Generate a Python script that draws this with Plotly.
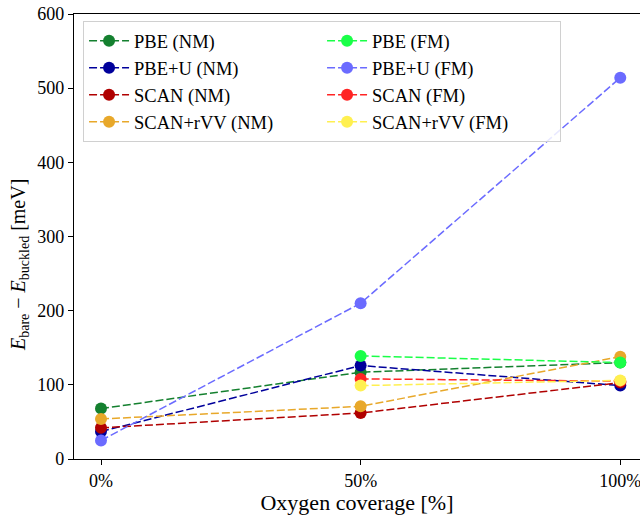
import plotly.graph_objects as go

coverage = [0, 50, 100]
tick_labels = ["0%", "50%", "100%"]
y_ticks = [0, 100, 200, 300, 400, 500, 600]

pbe_nm = [68, 117, 130]
pbeu_nm = [37, 126, 99]
scan_nm = [42, 62, 103]
scanrvv_nm = [54, 71, 138]
pbe_fm = [None, 139, 130]
pbeu_fm = [25, 210, 514]
scan_fm = [None, 108, 105]
scanrvv_fm = [None, 99, 106]

series = [
    ("PBE (NM)", pbe_nm, "#14802f", 0),
    ("PBE+U (NM)", pbeu_nm, "#00009b", 2),
    ("SCAN (NM)", scan_nm, "#b00000", 4),
    ("SCAN+rVV (NM)", scanrvv_nm, "#e8a82a", 6),
    ("PBE (FM)", pbe_fm, "#1aff48", 1),
    ("PBE+U (FM)", pbeu_fm, "#6b6bff", 3),
    ("SCAN (FM)", scan_fm, "#ff2424", 5),
    ("SCAN+rVV (FM)", scanrvv_fm, "#fff050", 7),
]

FONT = "Liberation Serif"

fig = go.Figure()
for name, vals, color, rank in series:
    fig.add_trace(go.Scatter(
        x=coverage, y=vals, name=name, mode="lines+markers",
        line=dict(color=color, width=1.5, dash="8px,3px"),
        marker=dict(color=color, size=12),
        legendrank=rank, connectgaps=False,
    ))

fig.update_layout(
    width=640, height=515,
    margin=dict(l=74, r=0, t=14, b=56),
    plot_bgcolor="white", paper_bgcolor="white",
    font=dict(family=FONT, size=18, color="black"),
    showlegend=True,
    legend=dict(
        orientation="h", x=0.016, y=0.984, xanchor="left", yanchor="top",
        entrywidth=183, entrywidthmode="pixels", itemwidth=40,
        bgcolor="rgba(255,255,255,0.85)", bordercolor="#d0d0d0", borderwidth=1,
        font=dict(family=FONT, size=18.5), traceorder="normal",
    ),
    xaxis=dict(
        range=[-5.2, 103.8], tickvals=coverage, ticktext=tick_labels,
        showgrid=False, zeroline=False, showline=True, linecolor="black",
        linewidth=1.2, mirror=True, ticks="outside", ticklen=5, tickwidth=1,
        tickcolor="black", ticklabeloverflow="allow",
        title=dict(text="Oxygen coverage [%]", standoff=6),
    ),
    yaxis=dict(
        range=[0, 600], tickvals=y_ticks,
        showgrid=False, zeroline=False, showline=True, linecolor="black",
        linewidth=1.2, ticks="outside", ticklen=5, tickwidth=1, tickcolor="black",
        ticklabeloverflow="allow",
    ),
    annotations=[dict(
        text="<i>E</i><sub>bare</sub> − <i>E</i><sub>buckled</sub> [meV]",
        xref="paper", yref="paper", x=(19 - 74) / 566, y=(459 - 265) / 445,
        xanchor="center", yanchor="middle", textangle=-90, showarrow=False,
        font=dict(family=FONT, size=20),
    )],
)

fig.write_html("out.html", config={"displayModeBar": False},
               post_script="document.body.style.margin='0';")
